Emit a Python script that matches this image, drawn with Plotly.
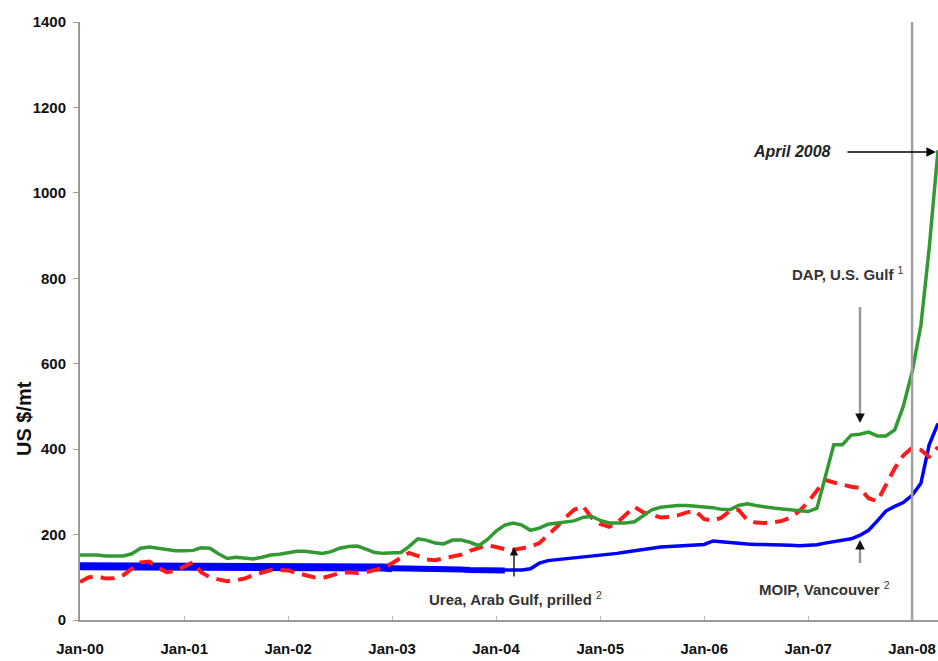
import plotly.graph_objects as go
import pandas as pd

months = pd.date_range("2000-01-01", periods=100, freq="MS")

dap_us_gulf = [152,153,152,150,150,150,155,168,171,168,
               164,162,162,163,169,168,155,144,147,146,
               143,147,152,154,158,161,161,158,156,160,
               168,172,173,166,158,156,156,158,172,190,
               187,180,178,187,187,182,174,188,208,222,
               227,222,210,215,224,227,230,232,240,243,
               233,227,227,227,230,245,258,264,267,268,
               268,267,266,263,259,258,268,272,268,264,
               262,260,258,255,254,262,330,410,410,433,
               435,440,431,431,445,500,580,690,870,1100]

urea_arab_gulf = [89,100,102,97,98,105,120,135,137,122,
                  112,115,125,135,112,100,95,91,93,97,
                  105,110,117,117,116,110,105,100,98,104,
                  110,112,110,112,116,122,133,145,157,150,
                  142,140,145,150,153,162,168,175,171,166,
                  164,167,172,180,198,218,240,258,267,240,
                  225,218,228,248,265,252,245,240,241,245,
                  252,255,236,233,239,255,258,234,228,227,
                  229,232,240,255,276,305,328,322,316,312,
                  309,285,278,315,355,385,403,398,382,405]

mop_vancouver = [126,126,126,126,125,125,125,125,125,125,
                 125,125,124,124,124,124,124,124,124,124,
                 124,124,124,124,123,123,123,123,123,123,
                 123,123,123,123,123,123,121,121,121,120,
                 120,120,119,119,118,117,117,117,117,116,
                 116,117,120,133,139,141,143,145,147,149,
                 151,153,156,159,162,165,168,171,172,173,
                 174,175,177,185,183,181,179,178,177,177,
                 176,175,175,174,174,176,180,183,186,190,
                 198,210,232,255,266,275,292,320,410,460]

year_ticks = ["Jan-00","Jan-01","Jan-02","Jan-03","Jan-04","Jan-05","Jan-06","Jan-07","Jan-08"]
tick_dates = pd.date_range("2000-01-01", periods=9, freq="12MS")
y_ticks = [0, 200, 400, 600, 800, 1000, 1200, 1400]

SANS = "Liberation Sans, Arial, sans-serif"

fig = go.Figure()
fig.add_trace(go.Scatter(x=months[:37], y=mop_vancouver[:37], mode="lines",
                         line=dict(color="#0000ff", width=8), hoverinfo="skip", showlegend=False))
fig.add_trace(go.Scatter(x=months[36:50], y=mop_vancouver[36:50], mode="lines",
                         line=dict(color="#0000ff", width=6), hoverinfo="skip", showlegend=False))
fig.add_trace(go.Scatter(x=months, y=mop_vancouver, mode="lines", name="MOP, Vancouver",
                         line=dict(color="#0000ff", width=3.5), showlegend=False))
fig.add_trace(go.Scatter(x=months, y=urea_arab_gulf, mode="lines", name="Urea, Arab Gulf, prilled",
                         line=dict(color="#ff1a1a", width=4, dash="14px,8px"), showlegend=False))
fig.add_trace(go.Scatter(x=months, y=dap_us_gulf, mode="lines", name="DAP, U.S. Gulf",
                         line=dict(color="#339933", width=3.5), showlegend=False))

# vertical marker at Jan-08
fig.add_shape(type="line", xref="x", yref="y", x0="2008-01-01", x1="2008-01-01", y0=0, y1=1400,
              line=dict(color="#a0a0a0", width=2.5), layer="above")

def px(x):
    return (x - 80) / 858.0

def py(y):
    return (620 - y) / 598.0

lab_font = dict(family=SANS, size=15, color="#333333")
common = dict(xref="paper", yref="paper", xanchor="center", yanchor="middle", showarrow=False)

# text labels
fig.add_annotation(x=px(792), y=py(152), text="<b><i>April 2008</i></b>",
                   font=dict(family=SANS, size=16, color="#222222"), **common)
fig.add_annotation(x=px(848), y=py(273), text="<b>DAP, U.S. Gulf</b> <sup>1</sup>", font=lab_font, **common)
fig.add_annotation(x=px(824), y=py(588), text="<b>MOIP, Vancouver</b> <sup>2</sup>", font=lab_font, **common)
fig.add_annotation(x=px(515), y=py(598), text="<b>Urea, Arab Gulf, prilled</b> <sup>2</sup>", font=lab_font, **common)
fig.add_annotation(x=px(24), y=py(419), text="<b>US $/mt</b>", textangle=-90,
                   font=dict(family=SANS, size=20, color="#111111"), **common)

# arrows
fig.add_annotation(xref="paper", yref="paper", x=px(936), y=py(152), ax=-90, ay=0, text="",
                   showarrow=True, arrowhead=2, arrowsize=1.2, arrowwidth=1.6, arrowcolor="#000000")
fig.add_shape(type="line", xref="paper", yref="paper", x0=px(860), x1=px(860), y0=py(307), y1=py(412),
              line=dict(color="#999999", width=2.5))
fig.add_annotation(xref="paper", yref="paper", x=px(860), y=py(423), ax=0, ay=-12, text="",
                   showarrow=True, arrowhead=2, arrowsize=1.2, arrowwidth=1.6, arrowcolor="#111111")
fig.add_shape(type="line", xref="paper", yref="paper", x0=px(860), x1=px(860), y0=py(563), y1=py(551),
              line=dict(color="#999999", width=2.5))
fig.add_annotation(xref="paper", yref="paper", x=px(860), y=py(540), ax=0, ay=12, text="",
                   showarrow=True, arrowhead=2, arrowsize=1.2, arrowwidth=1.6, arrowcolor="#111111")
fig.add_annotation(xref="paper", yref="paper", x=px(514), y=py(547), ax=0, ay=31, text="",
                   showarrow=True, arrowhead=2, arrowsize=1.2, arrowwidth=1.4, arrowcolor="#111111")

fig.update_layout(
    width=938, height=661,
    margin=dict(l=80, r=0, t=22, b=41),
    paper_bgcolor="white", plot_bgcolor="white",
    font=dict(family=SANS, size=15, color="#111111"),
)
tick_font = dict(family=SANS, size=15, color="#111111", weight="bold")
fig.update_xaxes(range=["2000-01-01", "2008-04-01"], tickvals=tick_dates, ticktext=year_ticks,
                 showgrid=False, zeroline=False, showline=True, linecolor="#999999", linewidth=2,
                 ticks="inside", ticklen=4, tickcolor="#bbbbbb",
                 tickfont=tick_font, ticklabelstandoff=14)
fig.update_yaxes(range=[0, 1400], tickvals=y_ticks, showgrid=False, zeroline=False,
                 showline=True, linecolor="#999999", linewidth=2, ticks="outside", ticklen=5,
                 tickcolor="#999999", tickfont=tick_font, ticklabelstandoff=4)

fig.write_html("out.html", config={"displayModeBar": False},
               post_script="document.body.style.margin='0px';document.body.style.overflow='hidden';")
